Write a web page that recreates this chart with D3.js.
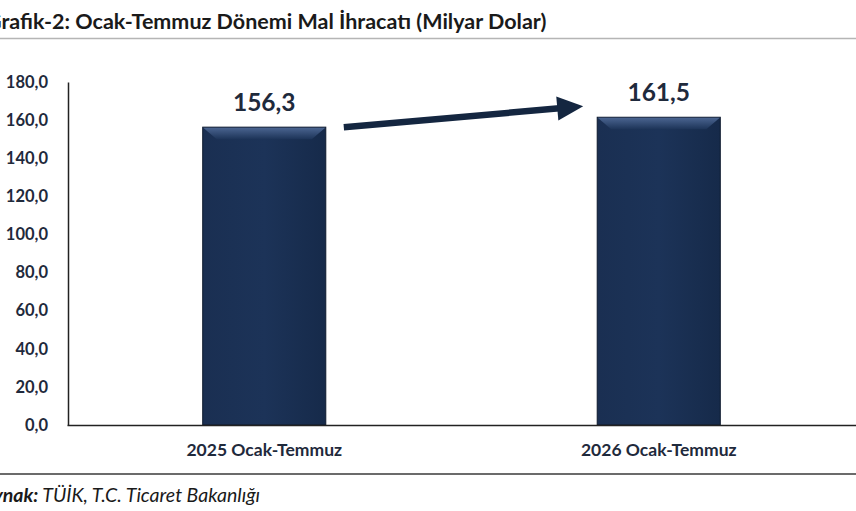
<!DOCTYPE html>
<html>
<head>
<meta charset="utf-8">
<script src="https://cdn.jsdelivr.net/npm/d3@7"></script>
<style>
  body { margin: 0; background: #fff; }
  text { font-family: Lato, "Open Sans", sans-serif; }
</style>
</head>
<body>
<div id="chart"></div>
<script>
// Data
const categories = ["2025 Ocak-Temmuz", "2026 Ocak-Temmuz"];
const values = [156.3, 161.5];
const yTicks = [0, 20, 40, 60, 80, 100, 120, 140, 160, 180];

const width = 856, height = 511;
const margin = {top: 82, bottom: 86, left: 68, right: 0};

const svg = d3.select("#chart")
    .append("svg")
    .attr("width", width)
    .attr("height", height);

const fmt = v => d3.format(".1f")(v).replace(".", ",");

// Scales
const xScale = d3.scaleBand()
    .domain(categories)
    .range([margin.left - 1, width])
    .paddingInner(0.688)
    .paddingOuter(0.344);

const yScale = d3.scaleLinear()
    .domain([0, 180])
    .range([height - margin.bottom, margin.top]);

// Title and rules
svg.append("text")
    .attr("x", -14)
    .attr("y", 29)
    .attr("font-size", 21.5)
    .attr("font-weight", "bold")
    .attr("fill", "#1a1a1a")
    .text("Grafik-2: Ocak-Temmuz Dönemi Mal İhracatı (Milyar Dolar)");

svg.append("line")
    .attr("x1", 0).attr("x2", width)
    .attr("y1", 38.5).attr("y2", 38.5)
    .attr("stroke", "#b5b5b5")
    .attr("stroke-width", 1.5);

svg.append("line")
    .attr("x1", 0).attr("x2", width)
    .attr("y1", 474).attr("y2", 474)
    .attr("stroke", "#3a3a3a")
    .attr("stroke-width", 1.5);

// Bevel gradients
const defs = svg.append("defs");
const gTop = defs.append("linearGradient").attr("id", "bevTop")
    .attr("x1", 0).attr("y1", 0).attr("x2", 0).attr("y2", 1);
gTop.append("stop").attr("offset", "0%").attr("stop-color", "#4a6490");
gTop.append("stop").attr("offset", "100%").attr("stop-color", "#1d3458");
const gBody = defs.append("linearGradient").attr("id", "body")
    .attr("x1", 0).attr("y1", 0).attr("x2", 1).attr("y2", 0);
gBody.append("stop").attr("offset", "0%").attr("stop-color", "#1a2f52");
gBody.append("stop").attr("offset", "50%").attr("stop-color", "#1c3358");
gBody.append("stop").attr("offset", "100%").attr("stop-color", "#162a4a");

// Y axis
const yAxis = svg.append("g")
    .attr("transform", `translate(${margin.left},0)`)
    .call(d3.axisLeft(yScale).tickValues(yTicks).tickFormat(fmt).tickSize(0).tickPadding(20));
yAxis.select(".domain").attr("stroke", "#222").attr("stroke-width", 1.5);
yAxis.selectAll("text")
    .attr("font-size", 16.5)
    .attr("font-weight", "bold")
    .attr("fill", "#1f2a3c")
    .style("font-family", "Lato, 'Open Sans', sans-serif");

// Bars
const bars = svg.selectAll(".bar")
    .data(values)
    .enter().append("g")
    .attr("class", "bar");

bars.append("rect")
    .attr("x", (d, i) => xScale(categories[i]))
    .attr("y", d => yScale(d))
    .attr("width", xScale.bandwidth())
    .attr("height", d => yScale(0) - yScale(d))
    .attr("fill", "url(#body)")
    .attr("stroke", "#0e1a2e")
    .attr("stroke-width", 1);

// top bevel
bars.append("path")
    .attr("d", (d, i) => {
        const x0 = xScale(categories[i]), x1 = x0 + xScale.bandwidth(), y0 = yScale(d);
        return `M${x0 + 0.5},${y0 + 0.5}L${x1 - 0.5},${y0 + 0.5}L${x1 - 14},${y0 + 12}L${x0 + 14},${y0 + 12}Z`;
    })
    .attr("fill", "url(#bevTop)");

// Value labels
bars.append("text")
    .attr("x", (d, i) => xScale(categories[i]) + xScale.bandwidth() / 2)
    .attr("y", d => yScale(d) - 16)
    .attr("text-anchor", "middle")
    .attr("font-size", 24.5)
    .attr("font-weight", "bold")
    .attr("fill", "#1f2a3c")
    .text(d => fmt(d));

// X axis
const xAxis = svg.append("g")
    .attr("transform", `translate(0,${yScale(0)})`)
    .call(d3.axisBottom(xScale).tickSize(0).tickPadding(19));
xAxis.select(".domain").attr("stroke", "#222").attr("stroke-width", 1.5);
xAxis.selectAll("text")
    .attr("font-size", 17.5)
    .attr("font-weight", "bold")
    .attr("fill", "#1f2a3c")
    .style("font-family", "Lato, 'Open Sans', sans-serif");

// Arrow between bars
const ax0 = xScale(categories[0]) + xScale.bandwidth() + 18;
const ay0 = yScale(values[0]);
const ax1 = xScale(categories[1]) - 14;
const ay1 = yScale(values[1]) - 11;
const ang = Math.atan2(ay1 - ay0, ax1 - ax0);
const headLen = 26, headHalf = 12;
const bx = ax1 - headLen * Math.cos(ang), by = ay1 - headLen * Math.sin(ang);
svg.append("line")
    .attr("x1", ax0).attr("y1", ay0)
    .attr("x2", bx + 2 * Math.cos(ang)).attr("y2", by + 2 * Math.sin(ang))
    .attr("stroke", "#142640")
    .attr("stroke-width", 6.5);
svg.append("path")
    .attr("d", `M${ax1},${ay1}L${bx - headHalf * Math.sin(ang)},${by + headHalf * Math.cos(ang)}L${bx + headHalf * Math.sin(ang)},${by - headHalf * Math.cos(ang)}Z`)
    .attr("fill", "#142640");

// Source
const src = svg.append("text")
    .attr("x", -29)
    .attr("y", 502)
    .attr("font-size", 19.5)
    .attr("font-style", "italic")
    .attr("fill", "#1a1a1a");
src.append("tspan").attr("font-weight", "bold").text("Kaynak:");
src.append("tspan").text(" TÜİK, T.C. Ticaret Bakanlığı");
</script>
</body>
</html>
